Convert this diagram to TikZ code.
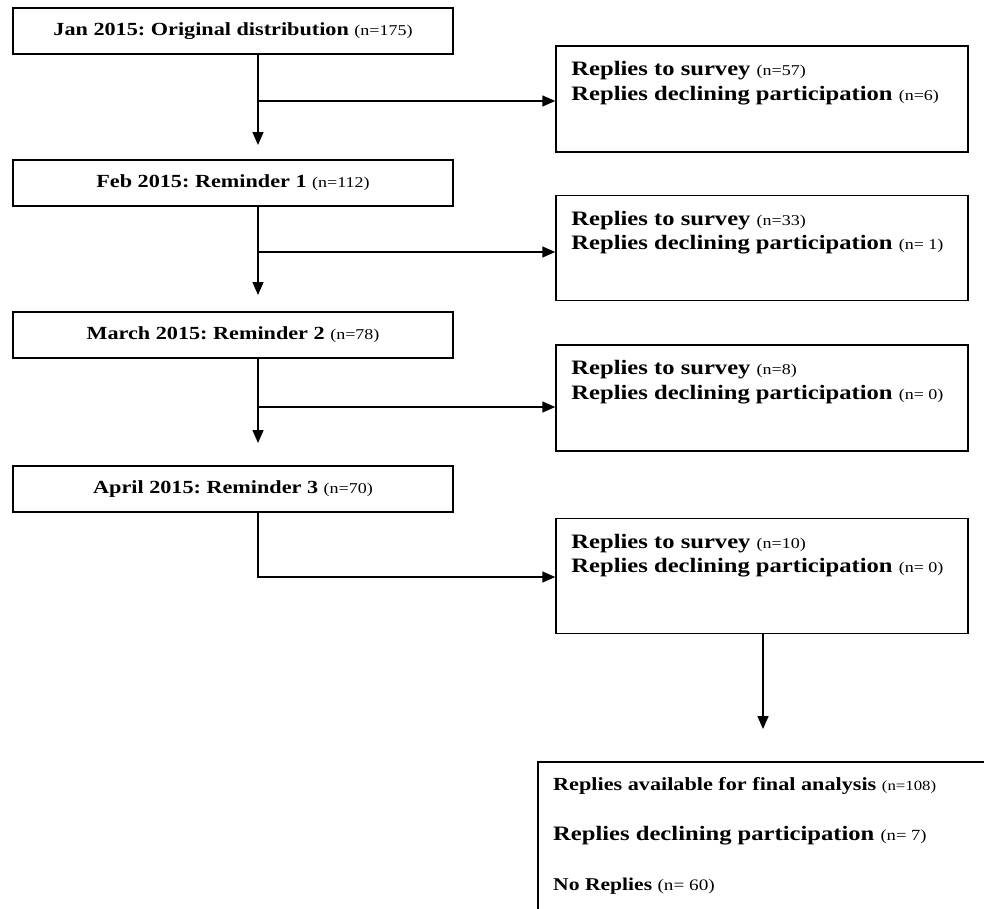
\documentclass[tikz,border=0pt]{standalone}
\usepackage{fontspec}
\setmainfont{Liberation Serif}[FakeStretch=1.2]
\frenchspacing
\usetikzlibrary{positioning, arrows.meta}
\newcommand{\ncount}[2][15]{{\fontsize{#1}{16}\mdseries\selectfont(#2)}}
\tikzset{mail box/.style={draw, line width=1.5pt, minimum width=440pt, minimum height=46pt,
    inner sep=0pt, font=\fontsize{18.5}{21}\selectfont\bfseries}}
\tikzset{reply box/.style={draw, line width=1.5pt, minimum width=412pt, inner sep=0pt}}
\tikzset{
  reply text/.style={anchor=north west, align=left, inner sep=0pt, xshift=16pt, yshift=-16pt,
    font=\fontsize{20.5}{24.5}\selectfont\bfseries},
  final text/.style={anchor=base west, inner sep=0pt, font=\bfseries},
  flow/.style={line width=1.5pt, -{Triangle[width=11pt, length=13pt]}}
}

\begin{document}
\begin{tikzpicture}[x=1pt, y=-1pt]
  \path[use as bounding box, clip] (0,0) rectangle (984,908);

  % ---- the four mailings
  \node[mail box] at (233, 31) (jan) {Jan 2015: Original distribution \ncount{n=175}};
  \node[mail box] at (233,183) (feb) {Feb 2015: Reminder 1 \ncount{n=112}};
  \node[mail box] at (233,335) (mar) {March 2015: Reminder 2 \ncount{n=78}};
  \node[mail box] at (233,489) (apr) {April 2015: Reminder 3 \ncount{n=70}};

  % ---- the replies after each mailing
  \node[reply box, minimum height=106pt] at (762, 99) (rep1) {};
  \node[reply box, minimum height=105pt] at (762,248) (rep2) {};
  \node[reply box, minimum height=106pt] at (762,398) (rep3) {};
  \node[reply box, minimum height=115pt] at (762,576) (rep4) {};
  \node[reply text] at (rep1.north west) (rep1t) {Replies to survey \ncount{n=57}\\Replies declining participation \ncount{n=6}};
  \node[reply text] at (rep2.north west) (rep2t) {Replies to survey \ncount{n=33}\\Replies declining participation \ncount{n= 1}};
  \node[reply text] at (rep3.north west) (rep3t) {Replies to survey \ncount{n=8}\\Replies declining participation \ncount{n= 0}};
  \node[reply text] at (rep4.north west) (rep4t) {Replies to survey \ncount{n=10}\\Replies declining participation \ncount{n= 0}};

  % ---- the totals, box runs off the page
  \node[draw, line width=1.5pt, anchor=north west, minimum width=480pt, minimum height=180pt] at (537,761) (total) {};
  \node[final text, font=\fontsize{18.5}{20}\selectfont\bfseries] at (553,790) (tot1) {Replies available for final analysis \ncount[14]{n=108}};
  \node[final text, font=\fontsize{20.5}{22}\selectfont\bfseries] at (553,840) (tot2) {Replies declining participation \ncount[15.5]{n= 7}};
  \node[final text, font=\fontsize{18}{20}\selectfont\bfseries] at (553,890) (tot3) {No Replies \ncount[16]{n= 60}};

  % junctions on the trunk, at the height of each reply box
  \coordinate (j1) at (258,101);  \coordinate (t1) at (258,145);
  \coordinate (j2) at (258,252);  \coordinate (t2) at (258,295);
  \coordinate (j3) at (258,407);  \coordinate (t3) at (258,443);
  \coordinate (j4) at (258,577);  \coordinate (t4) at (763,729);

  % ================= down the mailings, across to the replies ==================
  \draw[flow] (jan.south -| j1) -- (t1);
  \draw[flow] (j1) -- (rep1.west |- j1);
  \draw[flow] (feb.south -| j2) -- (t2);
  \draw[flow] (j2) -- (rep2.west |- j2);
  \draw[flow] (mar.south -| j3) -- (t3);
  \draw[flow] (j3) -- (rep3.west |- j3);
  \draw[flow] (apr.south -| j4) |- (rep4.west |- j4);

  % ================= last replies -> totals ====================================
  \draw[flow] (rep4.south -| t4) -- (t4);

\end{tikzpicture}
\end{document}
